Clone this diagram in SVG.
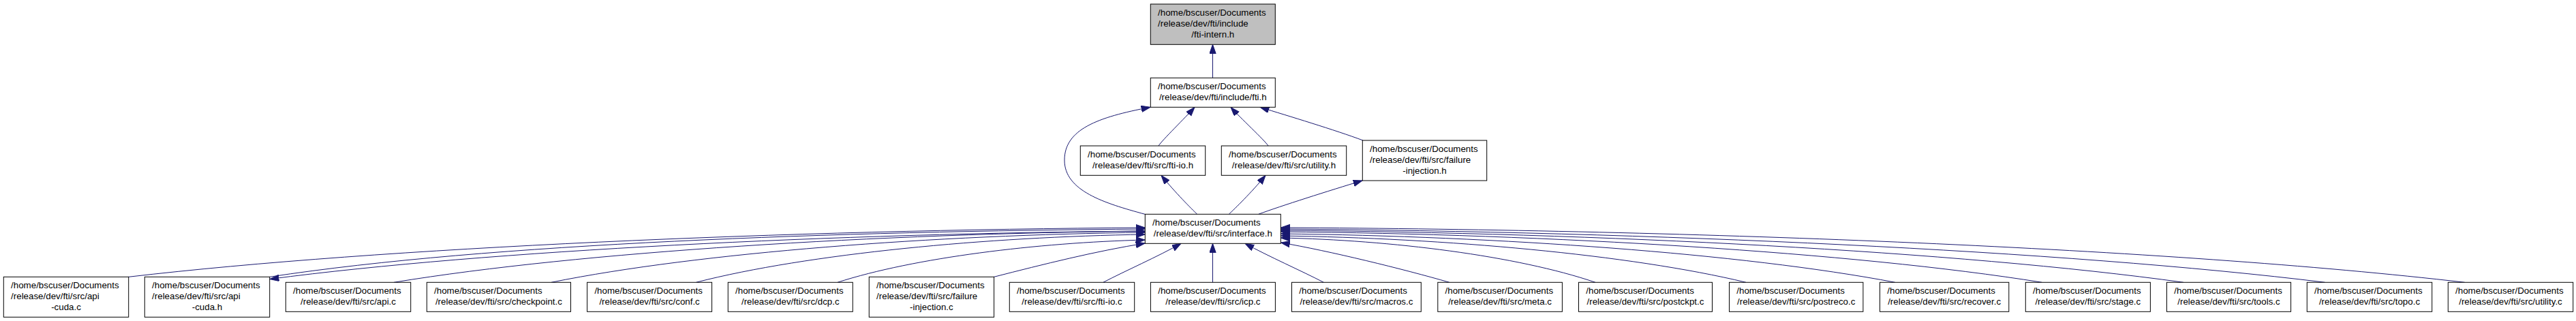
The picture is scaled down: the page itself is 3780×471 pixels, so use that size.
<svg xmlns="http://www.w3.org/2000/svg" width="3780" height="471" viewBox="0 0 3780 471">
<style>
.n rect{fill:#fff;stroke:#000;stroke-width:1}
.n.root rect{fill:#bfbfbf}
.n text{font-family:"Liberation Sans",Arial,Helvetica,sans-serif;font-size:13.33px;fill:#000}
.n text.c{text-anchor:middle}
.e path{fill:none;stroke:#191970;stroke-width:1;marker-end:url(#ah)}
</style>
<defs>
<marker id="ah" markerWidth="15" markerHeight="11" refX="13.3" refY="4.67" orient="auto" markerUnits="userSpaceOnUse"><path d="M0,0 L13.3,4.67 L0,9.33 z" fill="#191970" stroke="#191970" stroke-width="1"/></marker>
</defs>
<rect width="3780" height="471" fill="#fff"/>
<g id="edges" class="e">
<path d="M1779.5,114.3 L1779.5,65.3"/>
<path d="M1700,214 C1705,206 1740,172 1753,157.3"/>
<path d="M1861,214 C1856,206 1819,172 1806,157.3"/>
<path d="M2000,206 C1960,191 1890,170 1849,157.3"/>
<path d="M1680,314.3 C1620,298 1562,280 1562,235 C1562,190 1610,172 1688,157.3"/>
<path d="M1756.7,314.3 C1748,306 1725,283 1704,257.3"/>
<path d="M1803.3,314.3 C1812,306 1836,283 1857,257.3"/>
<path d="M1846.7,314.3 C1880,302 1950,280 1999,265"/>
<path d="M188.7,406.3 C561.5,362.9 1158,337.6 1680,334"/>
<path d="M395.7,406.3 C716.8,357.1 1230.5,339.5 1680,336"/>
<path d="M1680,339 C1230.6,342.5 717,367.2 396,409.5"/>
<path d="M578,414.3 C853.5,369.1 1294.3,342.8 1680,339"/>
<path d="M809,414.3 C1026.8,370.3 1375.2,344.7 1680,341"/>
<path d="M1021.4,414.3 C1186.1,372.1 1449.5,347.5 1680,344"/>
<path d="M1229,414.3 C1341.8,378 1522.2,356 1680,352"/>
<path d="M1458.6,406.3 C1530,388 1610,368 1680,357"/>
<path d="M1618.8,414.3 C1650,398 1700,376 1733,357.3"/>
<path d="M1779.5,414.3 L1779.5,357.3"/>
<path d="M1942.4,414.3 C1911,398 1861,376 1827,357.3"/>
<path d="M2126.8,414.3 C2060,395 1950,368 1879.5,356"/>
<path d="M2341,414.3 C2225.6,375.1 2041,352.3 1879.5,349"/>
<path d="M2562,414.3 C2391.4,373.3 2118.4,349.4 1879.5,346"/>
<path d="M2780.8,414.3 C2555.5,371.5 2195,346.6 1879.5,343"/>
<path d="M2996.4,414.3 C2717.2,369.7 2270.4,343.7 1879.5,340"/>
<path d="M3204,414.3 C2872.9,368.5 2343.1,341.8 1879.5,338"/>
<path d="M3411.7,414.3 C3028.7,367.3 2415.8,339.9 1879.5,336"/>
<path d="M3616.7,414.3 C3182.4,364 2487.5,337 1879.5,334"/>
</g>
<g id="fti-intern_h" class="n root"><rect x="1688.3" y="6" width="183" height="59.3"/><text x="1699.1" y="23.2">/home/bscuser/Documents</text><text x="1699.1" y="39.2">/release/dev/fti/include</text><text class="c" x="1779.8" y="55.2">/fti-intern.h</text></g>
<g id="fti_h" class="n"><rect x="1688.3" y="114.3" width="183" height="43"/><text x="1699.1" y="131.3">/home/bscuser/Documents</text><text class="c" x="1779.8" y="147.3">/release/dev/fti/include/fti.h</text></g>
<g id="fti-io_h" class="n"><rect x="1585.3" y="214" width="183.4" height="43.3"/><text x="1596.1" y="231.2">/home/bscuser/Documents</text><text class="c" x="1677" y="247.2">/release/dev/fti/src/fti-io.h</text></g>
<g id="utility_h" class="n"><rect x="1792.3" y="214" width="183.4" height="43.3"/><text x="1803.1" y="231.2">/home/bscuser/Documents</text><text class="c" x="1884" y="247.2">/release/dev/fti/src/utility.h</text></g>
<g id="failure-injection_h" class="n"><rect x="1999.3" y="206" width="182.4" height="59"/><text x="2010.1" y="223">/home/bscuser/Documents</text><text x="2010.1" y="239">/release/dev/fti/src/failure</text><text class="c" x="2090.5" y="255">-injection.h</text></g>
<g id="interface_h" class="n"><rect x="1680.3" y="314.3" width="199" height="43"/><text x="1691.1" y="331.3">/home/bscuser/Documents</text><text class="c" x="1779.8" y="347.3">/release/dev/fti/src/interface.h</text></g>
<g id="api-cuda_c" class="n"><rect x="5.3" y="406.3" width="183.4" height="59"/><text x="16.1" y="423.3">/home/bscuser/Documents</text><text x="16.1" y="439.3">/release/dev/fti/src/api</text><text class="c" x="97" y="455.3">-cuda.c</text></g>
<g id="api-cuda_h" class="n"><rect x="212.3" y="406.3" width="183.4" height="59"/><text x="223.1" y="423.3">/home/bscuser/Documents</text><text x="223.1" y="439.3">/release/dev/fti/src/api</text><text class="c" x="304" y="455.3">-cuda.h</text></g>
<g id="api_c" class="n"><rect x="419.3" y="414.3" width="183.4" height="43"/><text x="430.1" y="431.3">/home/bscuser/Documents</text><text class="c" x="511" y="447.3">/release/dev/fti/src/api.c</text></g>
<g id="checkpoint_c" class="n"><rect x="626.3" y="414.3" width="211.2" height="43"/><text x="637.1" y="431.3">/home/bscuser/Documents</text><text class="c" x="731.9" y="447.3">/release/dev/fti/src/checkpoint.c</text></g>
<g id="conf_c" class="n"><rect x="861.6" y="414.3" width="183" height="43"/><text x="872.4" y="431.3">/home/bscuser/Documents</text><text class="c" x="953.1" y="447.3">/release/dev/fti/src/conf.c</text></g>
<g id="dcp_c" class="n"><rect x="1068.3" y="414.3" width="183" height="43"/><text x="1079.1" y="431.3">/home/bscuser/Documents</text><text class="c" x="1159.8" y="447.3">/release/dev/fti/src/dcp.c</text></g>
<g id="failure-injection_c" class="n"><rect x="1275.3" y="406.3" width="183.3" height="59"/><text x="1286.1" y="423.3">/home/bscuser/Documents</text><text x="1286.1" y="439.3">/release/dev/fti/src/failure</text><text class="c" x="1366.9" y="455.3">-injection.c</text></g>
<g id="fti-io_c" class="n"><rect x="1481.3" y="414.3" width="183.4" height="43"/><text x="1492.1" y="431.3">/home/bscuser/Documents</text><text class="c" x="1573" y="447.3">/release/dev/fti/src/fti-io.c</text></g>
<g id="icp_c" class="n"><rect x="1688.4" y="414.3" width="183" height="43"/><text x="1699.2" y="431.3">/home/bscuser/Documents</text><text class="c" x="1779.9" y="447.3">/release/dev/fti/src/icp.c</text></g>
<g id="macros_c" class="n"><rect x="1895.5" y="414.3" width="189.8" height="43"/><text x="1906.3" y="431.3">/home/bscuser/Documents</text><text class="c" x="1990.4" y="447.3">/release/dev/fti/src/macros.c</text></g>
<g id="meta_c" class="n"><rect x="2109.8" y="414.3" width="182.6" height="43"/><text x="2120.6" y="431.3">/home/bscuser/Documents</text><text class="c" x="2201.1" y="447.3">/release/dev/fti/src/meta.c</text></g>
<g id="postckpt_c" class="n"><rect x="2316.5" y="414.3" width="196" height="43"/><text x="2327.3" y="431.3">/home/bscuser/Documents</text><text class="c" x="2414.5" y="447.3">/release/dev/fti/src/postckpt.c</text></g>
<g id="postreco_c" class="n"><rect x="2537.5" y="414.3" width="196.4" height="43"/><text x="2548.3" y="431.3">/home/bscuser/Documents</text><text class="c" x="2635.7" y="447.3">/release/dev/fti/src/postreco.c</text></g>
<g id="recover_c" class="n"><rect x="2758.5" y="414.3" width="189.3" height="43"/><text x="2769.3" y="431.3">/home/bscuser/Documents</text><text class="c" x="2853.1" y="447.3">/release/dev/fti/src/recover.c</text></g>
<g id="stage_c" class="n"><rect x="2972.3" y="414.3" width="183.1" height="43"/><text x="2983.1" y="431.3">/home/bscuser/Documents</text><text class="c" x="3063.8" y="447.3">/release/dev/fti/src/stage.c</text></g>
<g id="tools_c" class="n"><rect x="3179.5" y="414.3" width="182.1" height="43"/><text x="3190.3" y="431.3">/home/bscuser/Documents</text><text class="c" x="3270.5" y="447.3">/release/dev/fti/src/tools.c</text></g>
<g id="topo_c" class="n"><rect x="3385.3" y="414.3" width="183.4" height="43"/><text x="3396.1" y="431.3">/home/bscuser/Documents</text><text class="c" x="3477" y="447.3">/release/dev/fti/src/topo.c</text></g>
<g id="utility_c" class="n"><rect x="3592.3" y="414.3" width="183.4" height="43"/><text x="3603.1" y="431.3">/home/bscuser/Documents</text><text class="c" x="3684" y="447.3">/release/dev/fti/src/utility.c</text></g>
</svg>
